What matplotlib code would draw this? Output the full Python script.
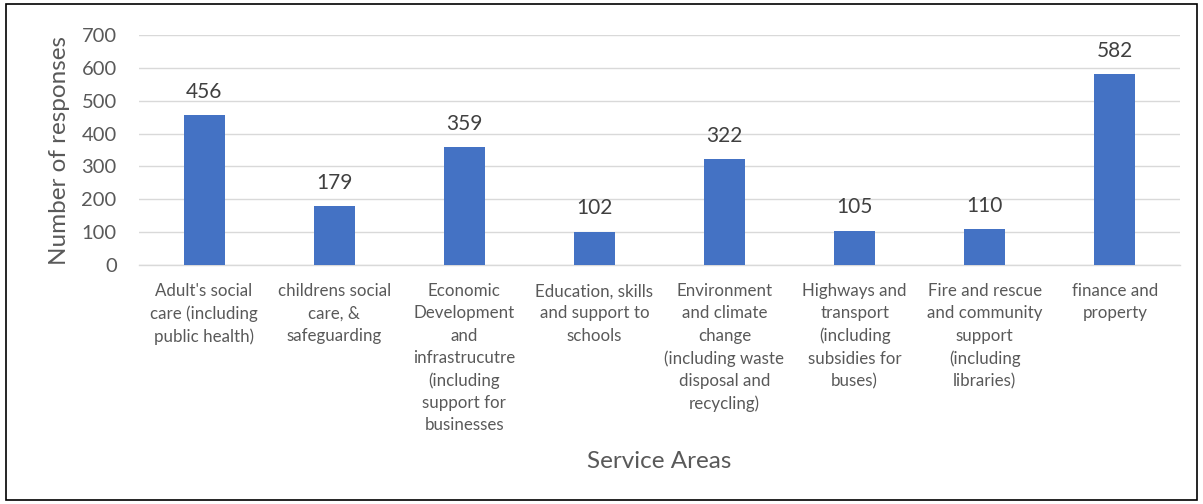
import matplotlib
matplotlib.use("Agg")
import matplotlib.pyplot as plt
from matplotlib.patches import Rectangle

categories = [
    "Adult's social\ncare (including\npublic health)",
    "childrens social\ncare, &\nsafeguarding",
    "Economic\nDevelopment\nand\ninfrastrucutre\n(including\nsupport for\nbusinesses",
    "Education, skills\nand support to\nschools",
    "Environment\nand climate\nchange\n(including waste\ndisposal and\nrecycling)",
    "Highways and\ntransport\n(including\nsubsidies for\nbuses)",
    "Fire and rescue\nand community\nsupport\n(including\nlibraries)",
    "finance and\nproperty",
]
values = [456, 179, 359, 102, 322, 105, 110, 582]
yticks = [0, 100, 200, 300, 400, 500, 600, 700]

plt.rcParams['font.family'] = ['Lato', 'DejaVu Sans']
txt = '#595959'

fig = plt.figure(figsize=(12.03, 5.04), dpi=100)
ax = fig.add_axes([0.1155, 0.474, 0.8653, 0.4566])
x = list(range(len(values)))
ax.bar(x, values, width=0.315, color='#4472C4', zorder=3)
for xi, v in zip(x, values):
    ax.text(xi, v + 40, str(v), ha='center', va='bottom', fontsize=15, color='#404040')
ax.set_xlim(-0.5, len(values) - 0.5)
ax.set_ylim(0, 700)
ax.set_yticks(yticks)
ax.set_yticklabels([str(t) for t in yticks], fontsize=14.5, color=txt)
ax.set_xticks(x)
ax.set_xticklabels(categories, fontsize=12.2, color=txt, linespacing=1.48, va='top')
ax.tick_params(axis='both', length=0)
ax.tick_params(axis='x', pad=13)
ax.tick_params(axis='y', pad=16)
ax.grid(axis='y', color='#D9D9D9', linewidth=1, zorder=0)
for s in ['top', 'right', 'left']:
    ax.spines[s].set_visible(False)
ax.spines['bottom'].set_color('#D9D9D9')
ax.spines['bottom'].set_linewidth(1)
ax.set_ylabel('Number of responses', fontsize=17.5, color=txt, labelpad=8)
fig.text(0.548, 0.085, 'Service Areas', ha='center', va='center', fontsize=17.5, color=txt)
fig.add_artist(Rectangle((0.005, 0.008), 0.99, 0.984, transform=fig.transFigure,
                         fill=False, edgecolor='black', linewidth=1.2))
fig.savefig('out.png', dpi=100)
